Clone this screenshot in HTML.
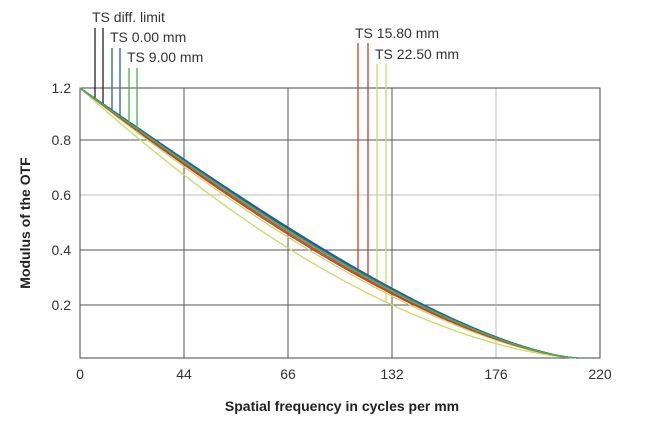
<!DOCTYPE html>
<html><head><meta charset="utf-8"><style>
body{margin:0;background:#fff}
svg{display:block;font-family:"Liberation Sans",sans-serif}
</style></head><body>
<svg id="s" width="659" height="434" viewBox="0 0 659 434" xmlns="http://www.w3.org/2000/svg">
<g stroke="#555" stroke-width="1" fill="none">
<line x1="80" y1="140" x2="600" y2="140"/>
<line x1="80" y1="195" x2="600" y2="195" stroke="#bbb"/>
<line x1="80" y1="250" x2="600" y2="250"/>
<line x1="80" y1="305" x2="600" y2="305"/>
<line x1="184" y1="88" x2="184" y2="358"/>
<line x1="288" y1="88" x2="288" y2="358"/>
<line x1="392" y1="88" x2="392" y2="358"/>
<line x1="496" y1="88" x2="496" y2="358" stroke="#bbb"/>
<rect x="80" y="88" width="520" height="270" stroke="#444"/>
</g>
<g font-size="14" fill="#333" text-anchor="end">
<text x="71" y="93">1.2</text><text x="71" y="145">0.8</text><text x="71" y="200">0.6</text><text x="71" y="255">0.4</text><text x="71" y="310">0.2</text>
</g>
<g font-size="14" fill="#333" text-anchor="middle">
<text x="80" y="379">0</text><text x="184" y="379">44</text><text x="288" y="379">66</text><text x="392" y="379">132</text><text x="496" y="379">176</text><text x="600" y="379">220</text>
</g>
<text x="342" y="411" font-size="14" font-weight="bold" fill="#222" text-anchor="middle">Spatial frequency in cycles per mm</text>
<text transform="translate(30,223) rotate(-90)" font-size="14" font-weight="bold" fill="#222" text-anchor="middle">Modulus of the OTF</text>
<g font-size="14" fill="#333">
<text x="92" y="22">TS diff. limit</text>
<text x="110" y="42">TS 0.00 mm</text>
<text x="127" y="62">TS 9.00 mm</text>
<text x="355" y="38">TS 15.80 mm</text>
<text x="375" y="59">TS 22.50 mm</text>
</g>
<g id="c" fill="none" stroke-width="1.3"></g>
</svg>
<script>
var g=document.getElementById('c');
function m(u){if(u>=1)return 0;return 2/Math.PI*(Math.acos(u)-u*Math.sqrt(1-u*u));}
function Y(x,k){var u=(x-80)/498;return 358-270*m(u)*(1-k*u);}
var S=[["#222",0,95,28],["#222",0.02,103,28],["#c8dc64",0.18,377,64],["#c8dc64",0.38,386,64],["#d03a2a",0.1,358,43],["#d03a2a",0.13,368,43],["#2a5db0",0,112,48],["#2a5db0",0.03,120,48],["#4caf50",0.05,129,68],["#4caf50",0.07,137,68]];
var h='';
S.forEach(function(s){var d='M80,88';for(var x=82;x<=578;x+=2)d+=' L'+x+','+Y(x,s[1]).toFixed(1);
h+='<path d="'+d+'" stroke="'+s[0]+'"/>';
h+='<line x1="'+s[2]+'" y1="'+s[3]+'" x2="'+s[2]+'" y2="'+Y(s[2],s[1]).toFixed(1)+'" stroke="'+s[0]+'"/>';});
g.innerHTML=h;
</script>
</body></html>
